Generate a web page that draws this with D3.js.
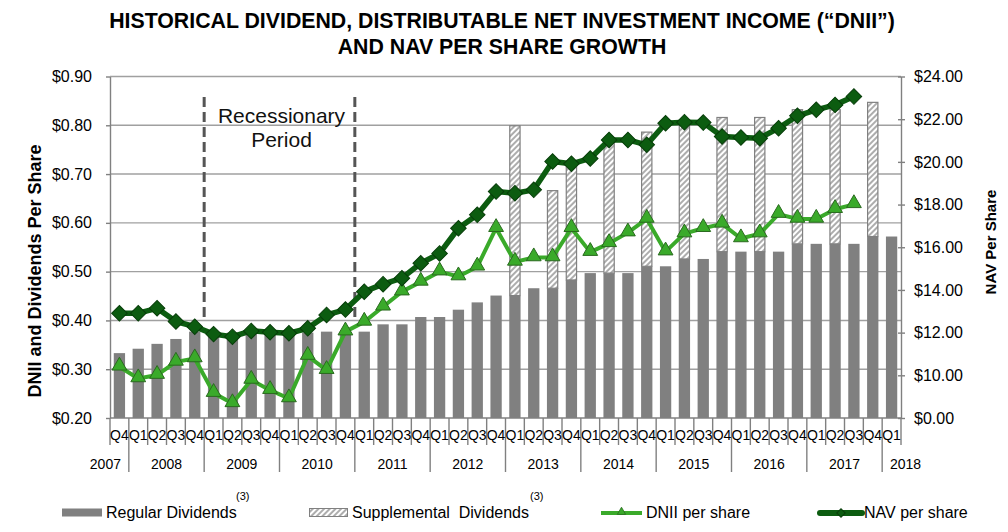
<!DOCTYPE html>
<html>
<head>
<meta charset="utf-8">
<script src="https://cdn.jsdelivr.net/npm/d3@7"></script>
<style>
  html, body { margin: 0; padding: 0; background: #ffffff; }
  svg { display: block; font-family: "Liberation Sans", Arial, sans-serif; }
</style>
</head>
<body>
<svg id="chart" width="1008" height="532"></svg>
<script>
// ---------------- DATA ----------------
const quarters = ["Q4",
  "Q1","Q2","Q3","Q4", "Q1","Q2","Q3","Q4", "Q1","Q2","Q3","Q4",
  "Q1","Q2","Q3","Q4", "Q1","Q2","Q3","Q4", "Q1","Q2","Q3","Q4",
  "Q1","Q2","Q3","Q4", "Q1","Q2","Q3","Q4", "Q1","Q2","Q3","Q4",
  "Q1","Q2","Q3","Q4", "Q1"];
const yearLabels = ["2007","2008","2009","2010","2011","2012","2013","2014","2015","2016","2017","2018"];
const yearCounts = [1,4,4,4,4,4,4,4,4,4,4,1];

const regularDividends = [0.333,
  0.342,0.352,0.362,0.377, 0.375,0.375,0.375,0.375, 0.375,0.375,0.377,0.375,
  0.377,0.392,0.392,0.407, 0.407,0.422,0.437,0.451, 0.451,0.466,0.466,0.483,
  0.497,0.497,0.497,0.511, 0.511,0.526,0.526,0.541, 0.541,0.541,0.541,0.557,
  0.557,0.557,0.557,0.572, 0.572];
const supplementalDividends = [0,
  0,0,0,0, 0,0,0,0, 0,0,0,0,
  0,0,0,0, 0,0,0,0, 0.348,0,0.200,0.240,
  0,0.275,0,0.275, 0,0.275,0,0.275, 0,0.275,0,0.275,
  0,0.275,0,0.275, 0];
const dniiPerShare = [0.305,
  0.281,0.288,0.315,0.322, 0.251,0.230,0.278,0.257, 0.240,0.327,0.298,0.377,
  0.397,0.428,0.459,0.479, 0.500,0.490,0.510,0.589, 0.520,0.529,0.529,0.589,
  0.540,0.558,0.580,0.608, 0.541,0.578,0.589,0.598, 0.568,0.578,0.618,0.608,
  0.608,0.628,0.638];
const navPerShare = [12.91,
  12.91,13.14,12.52,12.28, 11.93,11.81,12.08,12.02, 11.97,12.20,12.83,13.08,
  13.92,14.27,14.55,15.25, 15.71,16.89,17.52,18.61, 18.53,18.69,20.02,19.91,
  20.16,21.03,21.03,20.80, 21.81,21.86,21.84,21.19, 21.14,21.11,21.58,22.16,
  22.44,22.67,23.06];

const leftTicks = [0.2,0.3,0.4,0.5,0.6,0.7,0.8,0.9];
const rightTicks = [8,10,12,14,16,18,20,22,24];
const rightTickLabels = ["$0.00","$10.00","$12.00","$14.00","$16.00","$18.00","$20.00","$22.00","$24.00"];
const recessionStart = 5, recessionEnd = 13; // category boundaries

const titleLines = ["HISTORICAL DIVIDEND, DISTRIBUTABLE NET INVESTMENT INCOME (\u201CDNII\u201D)",
                    "AND NAV PER SHARE GROWTH"];

// ---------------- LAYOUT ----------------
const svg = d3.select("#chart");
const L = 110, R = 901, T = 76.5, B = 418;
const idx = d3.range(quarters.length);

const x = d3.scaleBand().domain(idx).range([L, R]).paddingInner(0.4).paddingOuter(0.2);
const step = x.step();
const bx = i => L + step * i; // boundary
const cx = i => x(i) + x.bandwidth() / 2;

const yL = d3.scaleLinear().domain([0.2, 0.9]).range([B, T]);
const yR = d3.scaleLinear().domain([8, 24]).range([B, T]);

const gray = "#808080";
const gridColor = "#a0a0a0";
const dniiColor = "#3aaa2a";
const navColor = "#0c5c10";

// hatch pattern
const defs = svg.append("defs");
const pat = defs.append("pattern").attr("id", "hatch")
  .attr("patternUnits", "userSpaceOnUse").attr("width", 4).attr("height", 4)
  .attr("patternTransform", "rotate(45)");
pat.append("rect").attr("width", 4).attr("height", 4).attr("fill", "#fff");
pat.append("line").attr("x1", 1).attr("y1", 0).attr("x2", 1).attr("y2", 4)
  .attr("stroke", "#8a8a8a").attr("stroke-width", 1.4);

// title
svg.append("g").selectAll("text").data(titleLines).join("text")
  .attr("x", 502).attr("y", (d, i) => 28 + i * 25.5)
  .attr("text-anchor", "middle").attr("font-weight", "bold").attr("font-size", 21.3)
  .attr("fill", "#000").text(d => d);

// gridlines
svg.append("g").selectAll("line").data(leftTicks.slice(1)).join("line")
  .attr("x1", L).attr("x2", R).attr("y1", d => yL(d)).attr("y2", d => yL(d))
  .attr("stroke", gridColor).attr("stroke-width", 1.4);

// regular bars
svg.append("g").selectAll("rect").data(idx).join("rect")
  .attr("x", i => x(i)).attr("width", x.bandwidth())
  .attr("y", i => yL(regularDividends[i]))
  .attr("height", i => B - yL(regularDividends[i]))
  .attr("fill", gray);

// supplemental bars
svg.append("g").selectAll("rect").data(idx.filter(i => supplementalDividends[i] > 0)).join("rect")
  .attr("x", i => x(i) + 0.5).attr("width", x.bandwidth() - 1)
  .attr("y", i => yL(regularDividends[i] + supplementalDividends[i]))
  .attr("height", i => yL(regularDividends[i]) - yL(regularDividends[i] + supplementalDividends[i]))
  .attr("fill", "url(#hatch)").attr("stroke", gray).attr("stroke-width", 1.2);

// left axis
const axL = d3.axisLeft(yL).tickValues(leftTicks).tickFormat(d => "$" + d.toFixed(2))
  .tickSizeInner(4).tickSizeOuter(0).tickPadding(14);
const gL = svg.append("g").attr("transform", `translate(${L},0)`).call(axL);
gL.select(".domain").attr("stroke", gray).attr("stroke-width", 1.4);
gL.selectAll(".tick line").attr("stroke", gray).attr("stroke-width", 1.4);
gL.selectAll(".tick text").attr("font-size", 16).attr("fill", "#000")
  .attr("font-family", "Liberation Sans, Arial, sans-serif");

// right axis
const axR = d3.axisRight(yR).tickValues(rightTicks).tickFormat((d, i) => rightTickLabels[i])
  .tickSizeInner(4).tickSizeOuter(0).tickPadding(9);
const gR = svg.append("g").attr("transform", `translate(${R},0)`).call(axR);
gR.select(".domain").attr("stroke", gray).attr("stroke-width", 1.4);
gR.selectAll(".tick line").attr("stroke", gray).attr("stroke-width", 1.4).attr("x1", -3);
gR.selectAll(".tick text").attr("font-size", 16).attr("fill", "#000")
  .attr("font-family", "Liberation Sans, Arial, sans-serif");

// bottom axis (manual multi-level category axis)
const gB = svg.append("g");
gB.append("line").attr("x1", L).attr("x2", R).attr("y1", B).attr("y2", B)
  .attr("stroke", gray).attr("stroke-width", 1.4);
const yearBounds = [];
{ let acc = 0; yearCounts.forEach(c => { acc += c; yearBounds.push(acc); }); }
gB.selectAll("line.cat").data(d3.range(quarters.length + 1)).join("line").attr("class", "cat")
  .attr("x1", i => bx(i)).attr("x2", i => bx(i)).attr("y1", B)
  .attr("y2", i => (i > 0 && i < quarters.length) && yearBounds.includes(i) ? 472 : 445)
  .attr("stroke", gray).attr("stroke-width", 1.4);
gB.selectAll("text.q").data(idx).join("text").attr("class", "q")
  .attr("x", i => cx(i)).attr("y", 440).attr("text-anchor", "middle")
  .attr("font-size", 14).attr("fill", "#000").text(i => quarters[i]);
gB.selectAll("text.yr").data(yearLabels).join("text").attr("class", "yr")
  .attr("x", (d, k) => {
    const start = k === 0 ? 0 : yearBounds[k - 1];
    const mid = (bx(start) + bx(start + yearCounts[k])) / 2;
    if (k === 0) return mid - 14;
    if (k === yearLabels.length - 1) return mid + 14;
    return mid;
  })
  .attr("y", 469).attr("text-anchor", "middle").attr("font-size", 14).attr("fill", "#000")
  .text(d => d);

// recession markers
svg.append("g").selectAll("line").data([recessionStart, recessionEnd]).join("line")
  .attr("x1", i => bx(i)).attr("x2", i => bx(i)).attr("y1", 97).attr("y2", 320)
  .attr("stroke", "#555").attr("stroke-width", 3).attr("stroke-dasharray", "10,5");
svg.append("g").selectAll("text").data(["Recessionary", "Period"]).join("text")
  .attr("x", (bx(recessionStart) + bx(recessionEnd)) / 2 + 2).attr("y", (d, i) => 123 + i * 24)
  .attr("text-anchor", "middle").attr("font-size", 21).attr("fill", "#111").text(d => d);

// DNII line
const lineL = d3.line().x((d, i) => cx(i)).y(d => yL(d));
svg.append("path").datum(dniiPerShare).attr("d", lineL)
  .attr("fill", "none").attr("stroke", dniiColor).attr("stroke-width", 4).attr("stroke-linejoin", "round");
const tri = d3.symbol().type(d3.symbolTriangle).size(95);
svg.append("g").selectAll("path").data(dniiPerShare).join("path")
  .attr("d", tri).attr("transform", (d, i) => `translate(${cx(i)},${yL(d) - 1})`)
  .attr("fill", dniiColor).attr("stroke", "#2a6a1f").attr("stroke-width", 1);

// NAV line
const lineR = d3.line().x((d, i) => cx(i)).y(d => yR(d));
svg.append("path").datum(navPerShare).attr("d", lineR)
  .attr("fill", "none").attr("stroke", navColor).attr("stroke-width", 5.5).attr("stroke-linejoin", "round");
svg.append("g").selectAll("rect").data(navPerShare).join("rect")
  .attr("x", -5.5).attr("y", -5.5).attr("width", 11).attr("height", 11)
  .attr("transform", (d, i) => `translate(${cx(i)},${yR(d)}) rotate(45)`)
  .attr("fill", navColor).attr("stroke", "#073d09").attr("stroke-width", 1);

// axis titles
svg.append("text").attr("transform", "translate(41,271) rotate(-90)")
  .attr("text-anchor", "middle").attr("font-weight", "bold").attr("font-size", 18)
  .attr("fill", "#000").text("DNII and Dividends Per Share");
svg.append("text").attr("transform", "translate(996,242) rotate(-90)")
  .attr("text-anchor", "middle").attr("font-weight", "bold").attr("font-size", 15)
  .attr("fill", "#000").text("NAV Per Share");

// legend
const lg = svg.append("g").attr("font-size", 16).attr("fill", "#000");
lg.append("rect").attr("x", 62).attr("y", 508.5).attr("width", 40).attr("height", 8).attr("fill", gray);
lg.append("text").attr("x", 106).attr("y", 518).text("Regular Dividends");
lg.append("text").attr("x", 236).attr("y", 500).attr("font-size", 11).text("(3)");
lg.append("rect").attr("x", 309.5).attr("y", 508.5).attr("width", 38).attr("height", 8)
  .attr("fill", "url(#hatch)").attr("stroke", gray).attr("stroke-width", 1);
lg.append("text").attr("x", 352).attr("y", 518).attr("xml:space", "preserve").text("Supplemental  Dividends");
lg.append("text").attr("x", 530).attr("y", 500).attr("font-size", 11).text("(3)");
lg.append("line").attr("x1", 601).attr("x2", 642).attr("y1", 513).attr("y2", 513)
  .attr("stroke", dniiColor).attr("stroke-width", 4);
lg.append("path").attr("d", d3.symbol().type(d3.symbolTriangle).size(30))
  .attr("transform", "translate(621.5,512)").attr("fill", dniiColor).attr("stroke", "#2a6a1f").attr("stroke-width", 0.8);
lg.append("text").attr("x", 646).attr("y", 518).text("DNII per share");
lg.append("line").attr("x1", 820).attr("x2", 862).attr("y1", 513).attr("y2", 513)
  .attr("stroke", navColor).attr("stroke-width", 6).attr("stroke-linecap", "round");
lg.append("rect").attr("x", -3).attr("y", -3).attr("width", 6).attr("height", 6)
  .attr("transform", "translate(841,513) rotate(45)").attr("fill", navColor).attr("stroke", "#073d09");
lg.append("text").attr("x", 864).attr("y", 518).text("NAV per share");
</script>
</body>
</html>
